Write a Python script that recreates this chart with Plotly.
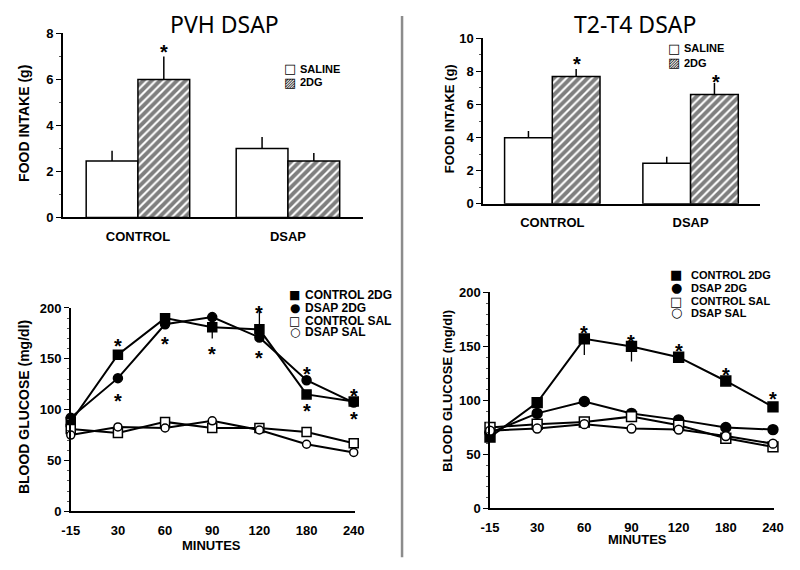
import plotly.graph_objects as go

# ---- food intake (bar charts) ----
groups = ['CONTROL', 'DSAP']

pvh_saline = [2.45, 3.0]
pvh_saline_err = [0.45, 0.5]
pvh_2dg = [6.0, 2.45]
pvh_2dg_err = [1.0, 0.35]
pvh_bar_stars = [7.4, None]

t2_saline = [4.0, 2.45]
t2_saline_err = [0.4, 0.4]
t2_2dg = [7.7, 6.6]
t2_2dg_err = [0.45, 0.7]
t2_bar_stars = [8.75, 7.65]

# ---- blood glucose (line charts) ----
minutes = ['-15', '30', '60', '90', '120', '180', '240']

pvh_ctrl_2dg = [88, 154, 190, 181, 179, 115, 108]
pvh_ctrl_2dg_up = [0, 0, 3, 0, 24, 0, 0]
pvh_ctrl_2dg_down = [0, 0, 0, 11, 0, 0, 0]
pvh_dsap_2dg = [92, 131, 184, 191, 171, 129, 107]
pvh_ctrl_sal = [81, 77, 88, 82, 82, 78, 67]
pvh_dsap_sal = [75, 83, 82, 89, 80, 66, 58]
pvh_stars_above = [None, 168, 203, 204, 200, 140, 118]
pvh_stars_below = [None, 113, 169, 160, 156, 104, 96]

t2_ctrl_2dg = [66, 98, 157, 150, 140, 118, 94]
t2_ctrl_2dg_up = [0, 0, 0, 0, 0, 0, 0]
t2_ctrl_2dg_down = [0, 0, 15, 14, 0, 0, 0]
t2_dsap_2dg = [70, 88, 99, 88, 82, 75, 73]
t2_ctrl_sal = [75, 78, 80, 85, 77, 65, 57]
t2_dsap_sal = [72, 74, 78, 74, 73, 67, 60]
t2_stars_above = [None, None, 167, 159, 150, 128, 106]

# the page puts the figure 8px in from the top-left corner
OFF = 8
W, H = 800 - OFF, 570 - OFF
FONT = 'Liberation Sans, Arial, sans-serif'
SYM_FONT = 'DejaVu Sans'


def px(x):
    return (x - OFF) / W


def py(y):
    return 1 - (y - OFF) / H


fig = go.Figure()


def add_bars(xa, ya, sal, sal_err, dg, dg_err):
    fig.add_trace(go.Bar(
        x=groups, y=sal, xaxis=xa, yaxis=ya, showlegend=False,
        marker=dict(color='white', line=dict(color='black', width=1.5)),
        error_y=dict(type='data', array=sal_err, arrayminus=[0] * len(sal),
                     symmetric=False, color='black', thickness=1.5, width=0)
    ))
    fig.add_trace(go.Bar(
        x=groups, y=dg, xaxis=xa, yaxis=ya, showlegend=False,
        marker=dict(color='white', line=dict(color='black', width=1.5),
                    pattern=dict(shape='/', fgcolor='black', bgcolor='white',
                                 size=6, solidity=0.65)),
        error_y=dict(type='data', array=dg_err, arrayminus=[0] * len(dg),
                     symmetric=False, color='black', thickness=1.5, width=0)
    ))


add_bars('x', 'y', pvh_saline, pvh_saline_err, pvh_2dg, pvh_2dg_err)
add_bars('x2', 'y2', t2_saline, t2_saline_err, t2_2dg, t2_2dg_err)

series_style = [
    ('square', 'black', 9),
    ('circle', 'black', 9),
    ('square', 'white', 9),
    ('circle', 'white', 8),
]


def add_lines(xa, ya, series, up, down, scale=1.0):
    for i, vals in enumerate(series):
        sym, col, sz = series_style[i]
        err = None
        if i == 0:
            err = dict(type='data', array=up, arrayminus=down, symmetric=False,
                       color='black', thickness=1.3, width=0)
        fig.add_trace(go.Scatter(
            x=minutes, y=vals, xaxis=xa, yaxis=ya, mode='lines+markers',
            showlegend=False, cliponaxis=False,
            line=dict(color='black', width=2),
            marker=dict(symbol=sym, color=col, size=sz * scale,
                        line=dict(color='black', width=1.5)),
            error_y=err
        ))


add_lines('x3', 'y3', [pvh_ctrl_2dg, pvh_dsap_2dg, pvh_ctrl_sal, pvh_dsap_sal],
          pvh_ctrl_2dg_up, pvh_ctrl_2dg_down)
add_lines('x4', 'y4', [t2_ctrl_2dg, t2_dsap_2dg, t2_ctrl_sal, t2_dsap_sal],
          t2_ctrl_2dg_up, t2_ctrl_2dg_down, scale=1.1)

tickfont = dict(family=FONT, size=13, color='black', weight='bold')


def yaxis_style(dom, rng, dtick, minor):
    return dict(domain=dom, range=rng, dtick=dtick, showgrid=False, zeroline=False,
                showline=True, linecolor='black', linewidth=1.5,
                ticks='outside', ticklen=5, tickwidth=1.2, tickcolor='black',
                minor=dict(dtick=minor, ticks='outside', ticklen=2.5, tickcolor='#555', tickwidth=0.8),
                tickfont=tickfont, fixedrange=True)


def xaxis_style(dom, anchor, rng=None):
    d = dict(domain=dom, anchor=anchor, type='category', showgrid=False, zeroline=False,
             showline=True, linecolor='black', linewidth=1.5, ticks='',
             ticklabelstandoff=6, tickfont=tickfont, fixedrange=True)
    if rng is not None:
        d['range'] = rng
    return d


fig.update_layout(
    width=W, height=H,
    margin=dict(l=0, r=0, t=0, b=0),
    paper_bgcolor='white', plot_bgcolor='white',
    barmode='group', bargap=0.31, bargroupgap=0,
    showlegend=False,
    xaxis=xaxis_style([px(55), px(362)], 'y'),
    yaxis=yaxis_style([py(216), py(27)], [0, 8], 2, 1) | dict(anchor='x'),
    xaxis2=xaxis_style([px(485), px(768)], 'y2'),
    yaxis2=yaxis_style([py(202), py(32)], [0, 10], 2, 1) | dict(anchor='x2'),
    xaxis3=xaxis_style([px(63), px(354)], 'y3', [0, 6.03]),
    yaxis3=yaxis_style([py(518), py(309)], [0, 200], 50, 10) | dict(anchor='x3'),
    xaxis4=xaxis_style([px(492), px(783)], 'y4', [0, 6.03]),
    yaxis4=yaxis_style([py(515), py(293)], [0, 200], 50, 10) | dict(anchor='x4'),
)

ann = []


def text(x, y, s, size=13, bold=True, angle=0, xanchor='center', family=FONT):
    ann.append(dict(x=px(x), y=py(y), xref='paper', yref='paper', text=s,
                    showarrow=False, textangle=angle, xanchor=xanchor, yanchor='middle',
                    font=dict(family=family, size=size, color='black',
                              weight='bold' if bold else 'normal')))


# panel titles
text(220, 17, 'PVH DSAP', size=23, bold=False, family='Noto Sans')
text(640, 17, 'T2-T4 DSAP', size=23, bold=False, family='Noto Sans')

# axis titles
text(15, 119, 'FOOD INTAKE (g)', size=14, angle=-90)
text(450, 114, 'FOOD INTAKE (g)', size=13, angle=-90)
text(15, 411, 'BLOOD GLUCOSE (mg/dl)', size=14, angle=-90)
text(449, 394, 'BLOOD GLUCOSE (mg/dl)', size=13, angle=-90)
text(207, 553, 'MINUTES', size=13)
text(643, 547, 'MINUTES', size=13)


# legends (rows are tighter than plotly's own legend allows)
def legend(x_icon, x_text, ys, icons, labels, size=12, icon_size=13):
    for yy, ic, lb in zip(ys, icons, labels):
        ann.append(dict(x=px(x_icon), y=py(yy), xref='paper', yref='paper', text=ic,
                        showarrow=False, xanchor='right', yanchor='middle', borderpad=0,
                        font=dict(family=SYM_FONT, size=icon_size, color='black')))
        ann.append(dict(x=px(x_text), y=py(yy), xref='paper', yref='paper', text=lb,
                        showarrow=False, xanchor='left', yanchor='middle', borderpad=0,
                        font=dict(family=FONT, size=size, color='black', weight='bold')))


legend(295, 297, [63, 77], ['□', '▨'], ['SALINE', '2DG'], size=11, icon_size=13)
legend(687, 689, [42, 57], ['□', '▨'], ['SALINE', '2DG'], size=11, icon_size=13)
legend(299, 302, [296, 309, 322, 334], ['■', '●', '□', '○'],
       ['CONTROL 2DG', 'DSAP 2DG', 'CONTROL SAL', 'DSAP SAL'], size=12, icon_size=12)
legend(689, 697, [275, 288, 302, 314], ['■', '●', '□', '○'],
       ['CONTROL 2DG', 'DSAP 2DG', 'CONTROL SAL', 'DSAP SAL'], size=11, icon_size=13)


# significance stars (x given as category index)
def stars(xa, ya, ys, xshift=0):
    for i, yv in enumerate(ys):
        if yv is None:
            continue
        ann.append(dict(x=i, y=yv, xref=xa, yref=ya, text='*', showarrow=False,
                        xshift=xshift, yshift=-5,
                        font=dict(family=FONT, size=20, color='black', weight='bold')))


stars('x', 'y', pvh_bar_stars, xshift=26)
stars('x2', 'y2', t2_bar_stars, xshift=25)
stars('x3', 'y3', pvh_stars_above)
stars('x3', 'y3', pvh_stars_below)
stars('x4', 'y4', t2_stars_above)

fig.update_layout(annotations=ann)

# divider between the two studies
fig.add_shape(type='line', xref='paper', yref='paper', x0=px(402), x1=px(402),
              y0=py(9), y1=py(565), line=dict(color='#8c8c8c', width=2.5))

fig.write_html("out.html")
